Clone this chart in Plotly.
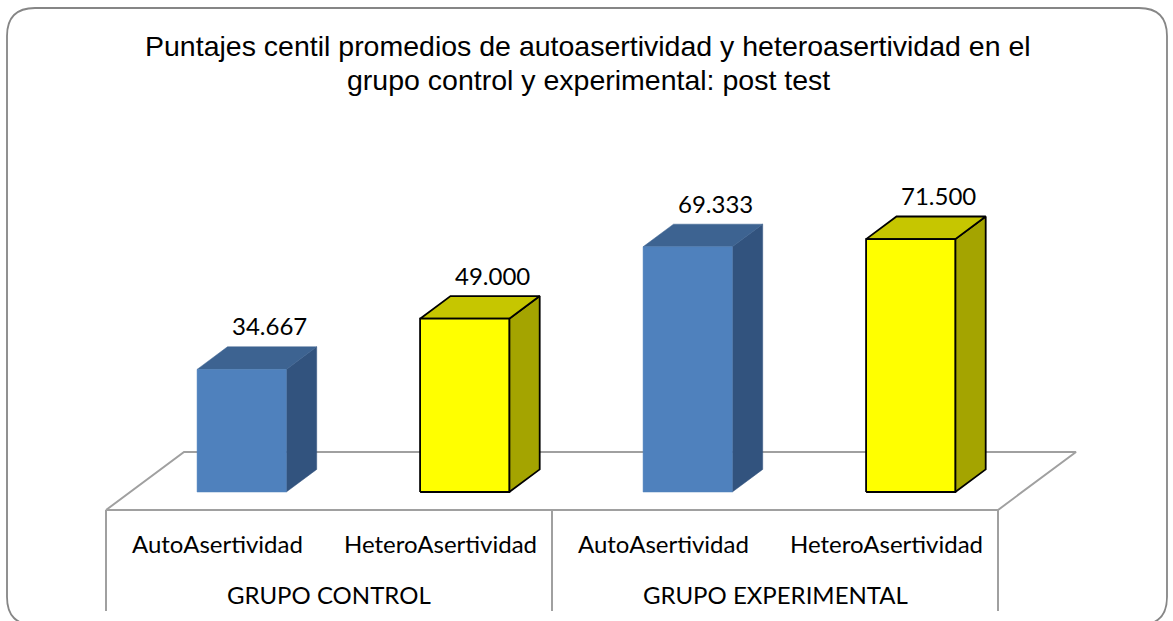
import plotly.graph_objects as go

# ---------------- data ----------------
groups = ["GRUPO CONTROL", "GRUPO EXPERIMENTAL"]
categories = ["AutoAsertividad", "HeteroAsertividad", "AutoAsertividad", "HeteroAsertividad"]
values = [34.667, 49.000, 69.333, 71.500]
value_labels = ["34.667", "49.000", "69.333", "71.500"]
series = ["auto", "hetero", "auto", "hetero"]
title_lines = ["Puntajes centil promedios de autoasertividad y heteroasertividad en el",
               "grupo control y experimental: post test"]

# ---------------- styling / geometry ----------------
W, H = 1173, 621
X0, XS = 217.5, 223.0      # pixel of category 0, pixels per category
Y0, YS = 510.0, 3.537      # pixel of value 0 (front floor edge), pixels per unit
DX, DY = 78.0 / XS, 58.0 / YS   # floor depth vector in data units
F0, F1 = 0.31, 0.70        # bar depth fractions (front / back)
BW = 0.40                  # bar width in category units

colors = {
    "auto": dict(front="#4F81BD", top="#3D6391", side="#32537E", line=None),
    "hetero": dict(front="#FFFF00", top="#C6C600", side="#A4A400", line="#000000"),
}
label_font = "Lato, 'Open Sans', sans-serif"
title_font = "'Liberation Sans', Arial, sans-serif"
grid_col = "#A0A0A0"

xr = [(0 - X0) / XS, (W - X0) / XS]
yr = [(Y0 - H) / YS, Y0 / YS]

fig = go.Figure()

# floor
n = len(categories)
fx = [-0.5, n - 0.5, n - 0.5 + DX, -0.5 + DX, -0.5]
fy = [0, 0, DY, DY, 0]
fig.add_trace(go.Scatter(x=fx, y=fy, mode="lines", fill="toself", fillcolor="white",
                         line=dict(color=grid_col, width=2), hoverinfo="skip", showlegend=False))

# table lines below the floor
y_bottom = (Y0 - 611) / YS
ng = len(groups)
per = n // ng
for k in range(ng + 1):
    xv = -0.5 + k * per
    fig.add_trace(go.Scatter(x=[xv, xv], y=[0, y_bottom], mode="lines",
                             line=dict(color=grid_col, width=2), hoverinfo="skip", showlegend=False))

# 3D bars
ox, oy = (F1 - F0) * DX, (F1 - F0) * DY
for i, (v, s) in enumerate(zip(values, series)):
    c = colors[s]
    xl = i - BW / 2 + F0 * DX
    xrr = xl + BW
    yb = F0 * DY
    yt = yb + v
    faces = [
        ("side", [xrr, xrr + ox, xrr + ox, xrr, xrr], [yb, yb + oy, yt + oy, yt, yb]),
        ("top", [xl, xrr, xrr + ox, xl + ox, xl], [yt, yt, yt + oy, yt + oy, yt]),
        ("front", [xl, xrr, xrr, xl, xl], [yb, yb, yt, yt, yb]),
    ]
    for name, px, py in faces:
        if c["line"]:
            ln = dict(color=c["line"], width=1.8)
        else:
            ln = dict(color=c[name], width=0.5)
        fig.add_trace(go.Scatter(x=px, y=py, mode="lines", fill="toself", fillcolor=c[name],
                                 line=ln, hoverinfo="skip", showlegend=False))
    fig.add_annotation(x=i + F1 * DX - 0.01, y=yt + oy, text=value_labels[i], showarrow=False,
                       yanchor="middle", yshift=21, xanchor="center",
                       font=dict(family=label_font, size=24, color="black"))

# category labels
y_cat = (Y0 - 543) / YS
for i, cat in enumerate(categories):
    fig.add_annotation(x=i, y=y_cat, text=cat, showarrow=False, yanchor="middle",
                       font=dict(family=label_font, size=24, color="black"))
y_grp = (Y0 - 594) / YS
for g, name in enumerate(groups):
    fig.add_annotation(x=g * per + (per - 1) / 2, y=y_grp, text=name, showarrow=False,
                       yanchor="middle", font=dict(family=label_font, size=24, color="black"))

# title
for j, (t, pyc) in enumerate(zip(title_lines, [46, 80])):
    fig.add_annotation(xref="paper", yref="paper", x=588 / W, y=1 - pyc / H, text=t,
                       showarrow=False, yanchor="middle", xanchor="center",
                       font=dict(family=title_font, size=28.5, color="black"))

# rounded outer border
def P(px, py):
    return f"{px / W:.5f},{1 - py / H:.5f}"
L, T, R, B, r = 7, 8, 1167, 625, 28
path = (f"M {P(L + r, T)} L {P(R - r, T)} Q {P(R, T)} {P(R, T + r)} "
        f"L {P(R, B - r)} Q {P(R, B)} {P(R - r, B)} L {P(L + r, B)} "
        f"Q {P(L, B)} {P(L, B - r)} L {P(L, T + r)} Q {P(L, T)} {P(L + r, T)} Z")
fig.add_shape(type="path", path=path, xref="paper", yref="paper",
              line=dict(color="#868686", width=1.8), layer="above")

fig.update_layout(
    width=W, height=H,
    margin=dict(l=0, r=0, t=0, b=0, pad=0),
    paper_bgcolor="white", plot_bgcolor="white",
    xaxis=dict(range=xr, visible=False, fixedrange=True),
    yaxis=dict(range=yr, visible=False, fixedrange=True),
    showlegend=False,
)

fig.write_html("out.html", config={"displayModeBar": False},
               post_script="document.body.style.margin='0';document.body.style.overflow='hidden';")
